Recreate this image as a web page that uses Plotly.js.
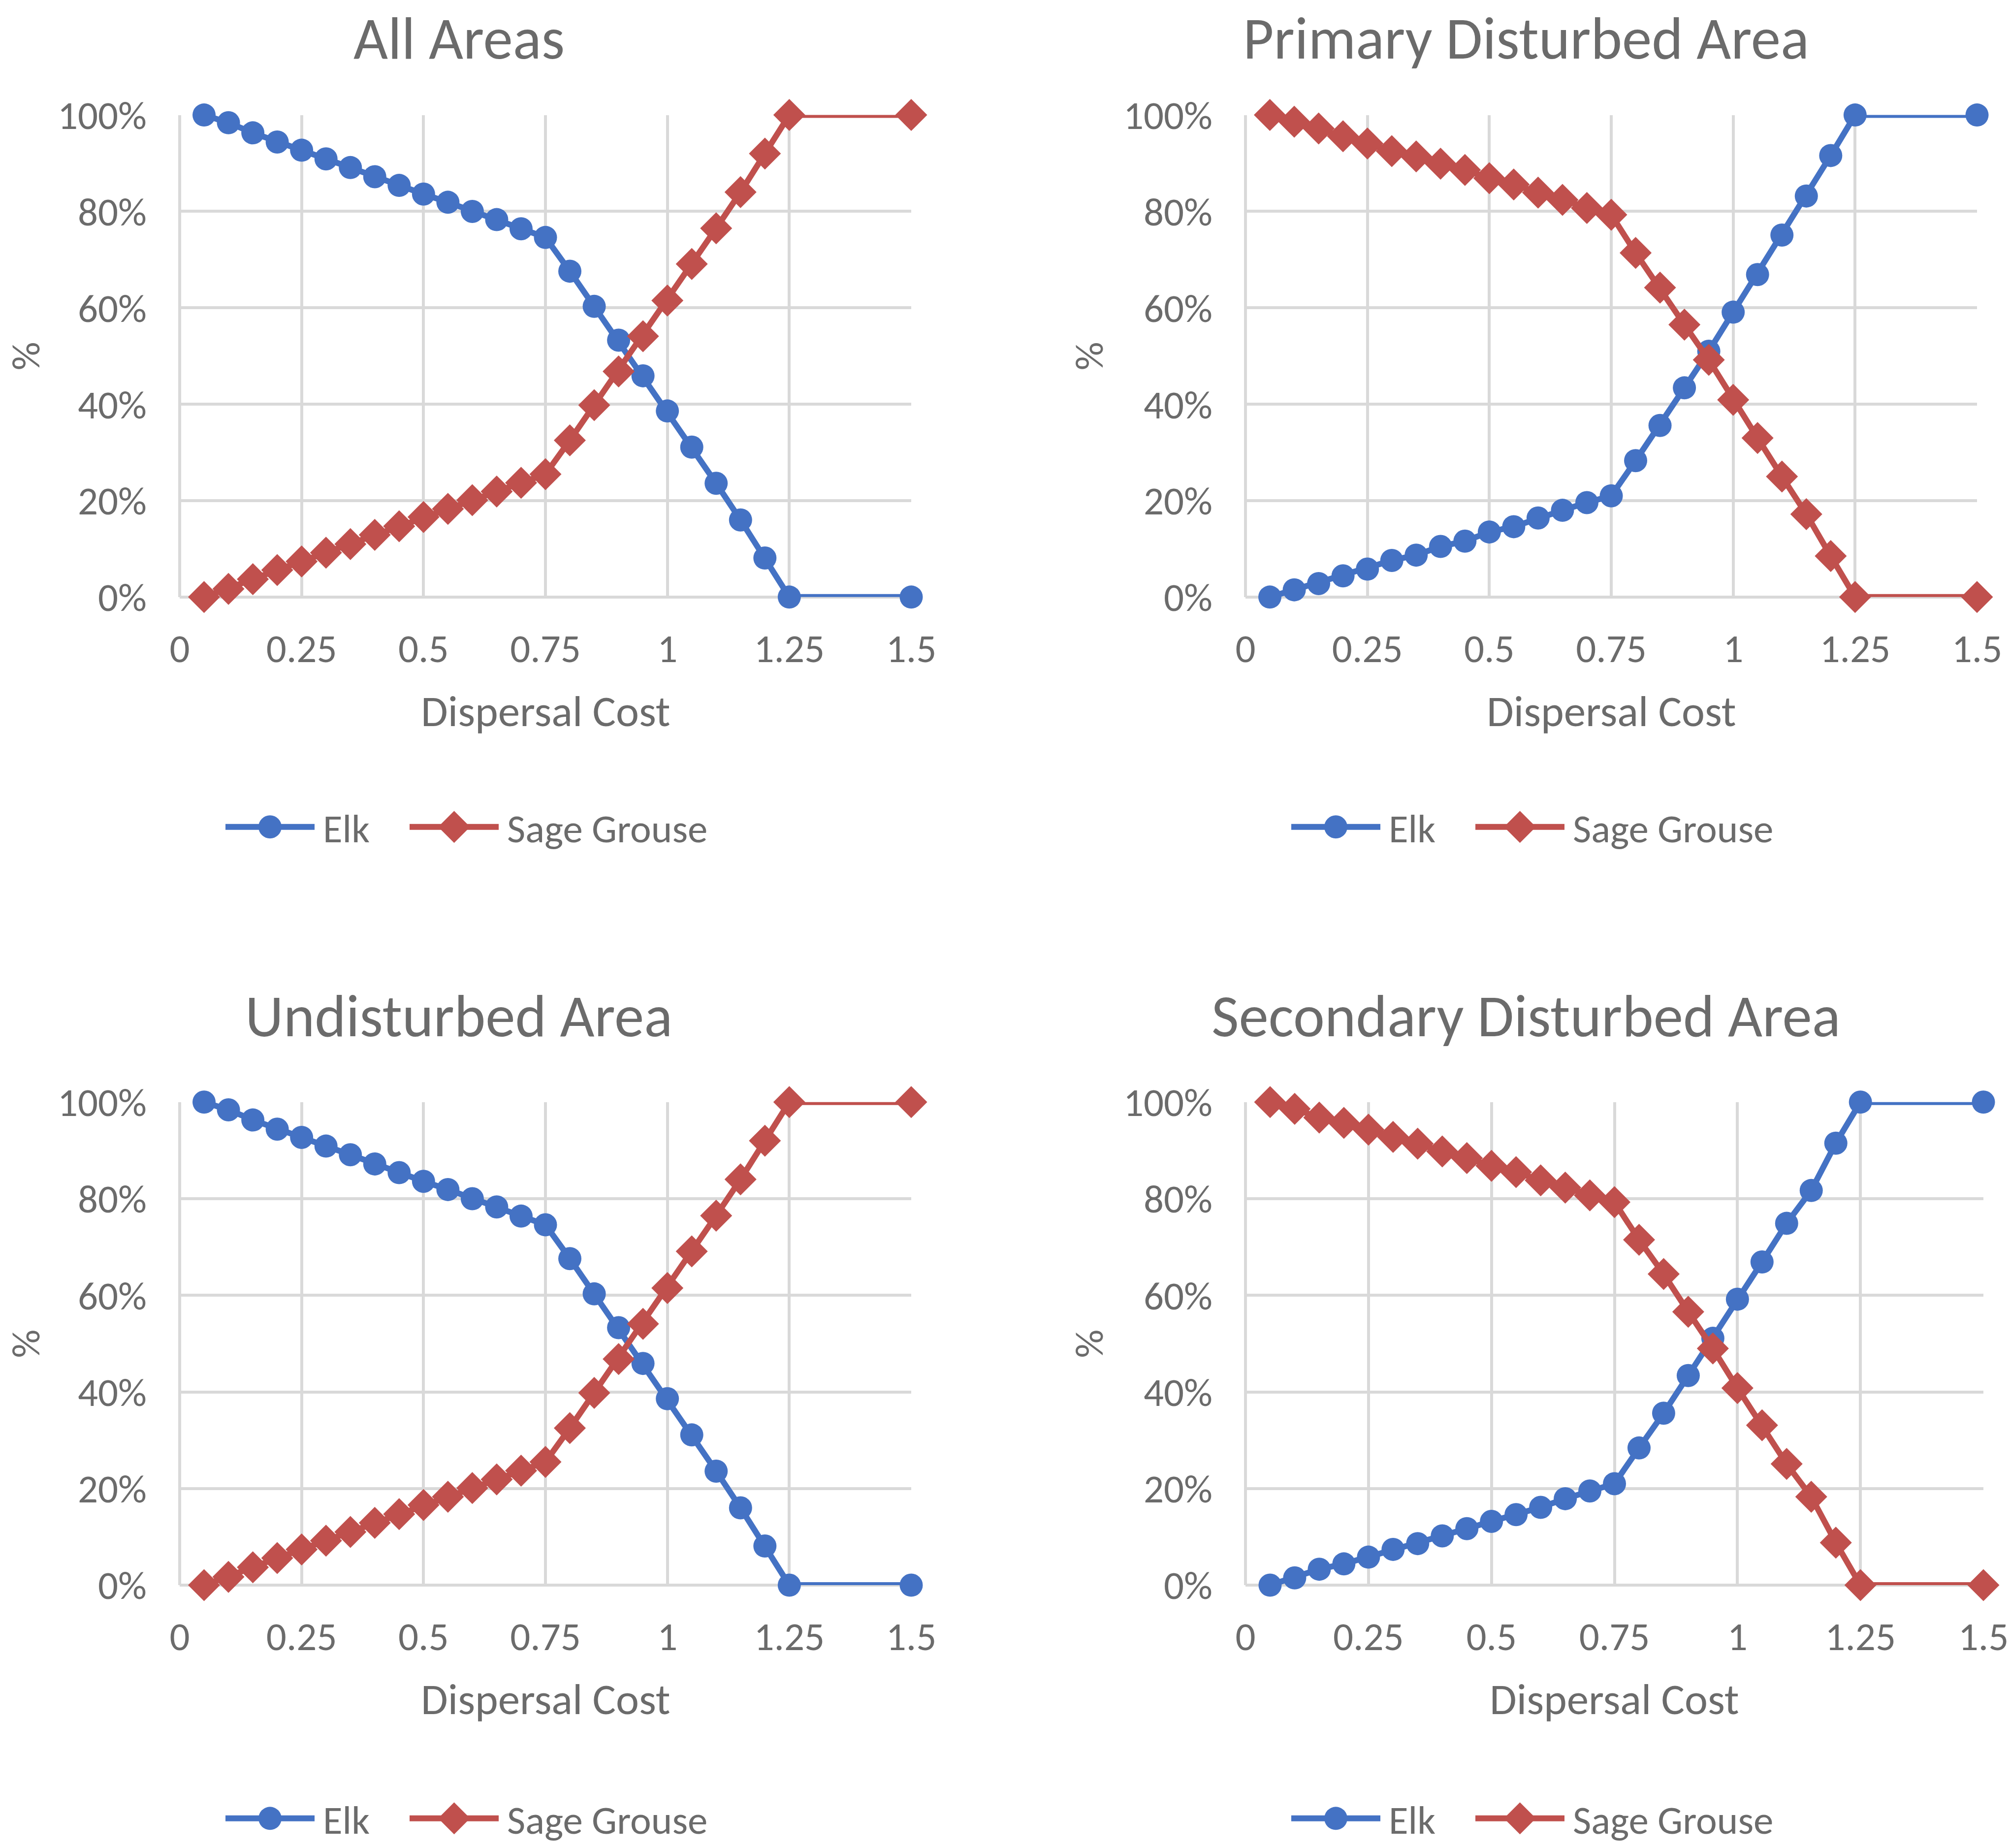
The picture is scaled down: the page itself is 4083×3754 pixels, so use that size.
<!DOCTYPE html>
<html>
<head>
<meta charset="utf-8">
<script src="https://cdn.plot.ly/plotly-3.0.1.min.js"></script>
<style>
  html, body { margin: 0; padding: 0; background: #fff; }
  #plot { width: 4083px; height: 3754px; }
</style>
</head>
<body>
<div id="plot"></div>
<script>
// dispersal cost steps (x) shared by all four panels
var cost = [0.05, 0.10, 0.15, 0.20, 0.25, 0.30, 0.35, 0.40, 0.45, 0.50,
            0.55, 0.60, 0.65, 0.70, 0.75, 0.80, 0.85, 0.90, 0.95, 1.00,
            1.05, 1.10, 1.15, 1.20, 1.25, 1.50];

// All Areas
var allElk   = [100, 98.4, 96.3, 94.4, 92.7, 90.9, 89.1, 87.2, 85.4, 83.6,
                81.9, 80.0, 78.3, 76.4, 74.6, 67.6, 60.3, 53.3, 45.9, 38.6,
                31.1, 23.6, 16.0, 8.1, 0, 0];
var allSage  = [0, 1.7, 3.7, 5.6, 7.4, 9.2, 11.0, 12.9, 14.7, 16.6,
                18.3, 20.1, 21.9, 23.7, 25.5, 32.5, 39.8, 46.8, 54.1, 61.5,
                69.1, 76.5, 84.0, 92.0, 100, 100];

// Primary Disturbed Area
var priElk   = [0, 1.5, 2.8, 4.4, 5.8, 7.6, 8.7, 10.5, 11.6, 13.5,
                14.6, 16.4, 18.0, 19.6, 21.0, 28.3, 35.6, 43.4, 51.0, 59.1,
                66.9, 75.1, 83.2, 91.6, 100, 100];
var priSage  = [100, 98.6, 97.2, 95.6, 94.1, 92.5, 91.4, 89.9, 88.6, 86.9,
                85.6, 83.9, 82.4, 80.7, 79.3, 71.4, 64.2, 56.5, 49.2, 40.9,
                33.0, 25.0, 17.2, 8.5, 0, 0];

// Undisturbed Area
var undElk   = [100, 98.4, 96.3, 94.4, 92.7, 90.9, 89.1, 87.2, 85.4, 83.6,
                81.9, 80.0, 78.3, 76.4, 74.6, 67.6, 60.3, 53.3, 45.9, 38.6,
                31.1, 23.6, 16.0, 8.1, 0, 0];
var undSage  = [0, 1.7, 3.7, 5.6, 7.4, 9.2, 11.0, 12.9, 14.7, 16.6,
                18.3, 20.1, 21.9, 23.7, 25.5, 32.5, 39.8, 46.8, 54.1, 61.5,
                69.1, 76.5, 84.0, 92.0, 100, 100];

// Secondary Disturbed Area
var secElk   = [0, 1.5, 3.3, 4.4, 5.8, 7.4, 8.6, 10.2, 11.7, 13.2,
                14.6, 16.1, 17.9, 19.5, 21.0, 28.4, 35.6, 43.4, 51.1, 59.2,
                66.9, 74.9, 81.7, 91.5, 100, 100];
var secSage  = [100, 98.6, 96.8, 95.7, 94.3, 92.8, 91.4, 89.8, 88.4, 86.8,
                85.5, 83.8, 82.3, 80.7, 79.3, 71.5, 64.4, 56.6, 49.0, 40.8,
                33.1, 25.1, 18.3, 8.8, 0, 0];

var panelTitles = ['All Areas', 'Primary Disturbed Area', 'Undisturbed Area', 'Secondary Disturbed Area'];
var seriesNames = ['Elk', 'Sage Grouse'];
var panelData = [[allElk, allSage], [priElk, priSage], [undElk, undSage], [secElk, secSage]];

var W = 4083, H = 3754;
var FONT = 'Carlito, Calibri, Lato, sans-serif';
var GREY = '#6b6b6b';
var GRID = '#d9d9d9';
var BLUE = '#4472C4', RED = '#C0504D';

function px(x) { return x / W; }
function py(y) { return 1 - y / H; }

// pixel boxes of each plot area [left, right, top, bottom]
var boxes = [
    [365, 1851, 235, 1220],
    [2530, 4016, 235, 1220],
    [365, 1851, 2252, 3239],
    [2530, 4029, 2252, 3239]
];

var data = [];
var layout = {
    width: W, height: H,
    margin: {l: 0, r: 0, t: 0, b: 0},
    paper_bgcolor: '#fff',
    plot_bgcolor: '#fff',
    showlegend: true,
    annotations: []
};

for (var p = 0; p < 4; p++) {
    var sfx = p === 0 ? '' : String(p + 1);
    var b = boxes[p];
    var legName = 'legend' + sfx;

    layout['xaxis' + sfx] = {
        domain: [px(b[0]), px(b[1])],
        anchor: 'y' + sfx,
        range: [0, 1.5], tick0: 0, dtick: 0.25,
        showgrid: true, gridcolor: GRID, gridwidth: 6,
        zeroline: true, zerolinecolor: GRID, zerolinewidth: 6,
        showline: false, ticks: '',
        ticklabelstandoff: 50,
        tickfont: {family: FONT, size: 81, color: GREY},
        fixedrange: true
    };
    layout['yaxis' + sfx] = {
        domain: [py(b[3]), py(b[2])],
        anchor: 'x' + sfx,
        range: [0, 100], tick0: 0, dtick: 20, ticksuffix: '%',
        showgrid: true, gridcolor: GRID, gridwidth: 6,
        zeroline: true, zerolinecolor: GRID, zerolinewidth: 6,
        showline: false, ticks: '',
        ticklabelstandoff: 66,
        tickfont: {family: FONT, size: 81, color: GREY},
        fixedrange: true
    };

    var legY = p < 2 ? 1690 : 3716;
    layout[legName] = {
        orientation: 'h',
        x: px(b[0] + 88), xanchor: 'left',
        y: py(legY), yanchor: 'middle',
        font: {family: FONT, size: 81, color: GREY},
        itemwidth: 193,
        bgcolor: 'rgba(0,0,0,0)',
        borderwidth: 0
    };

    var cols = [BLUE, RED], syms = ['circle', 'diamond'], sizes = [47, 50];
    var entryW = [166, 0];
    for (var s = 0; s < 2; s++) {
        var tr = {
            type: 'scatter', mode: 'lines+markers',
            name: seriesNames[s],
            x: cost, y: panelData[p][s],
            xaxis: 'x' + sfx, yaxis: 'y' + sfx,
            legend: legName,
            line: {color: cols[s], width: 12},
            marker: {color: cols[s], symbol: syms[s], size: sizes[s]},
            cliponaxis: false,
            hoverinfo: 'skip'
        };
        if (entryW[s]) tr.legendwidth = entryW[s];
        data.push(tr);
    }

    // chart title
    var titleX = p % 2 === 0 ? 932 : 3100;
    var titleTop = p < 2 ? 2 : 2000;
    layout.annotations.push({
        text: panelTitles[p], xref: 'paper', yref: 'paper',
        x: px(titleX), y: py(titleTop), xanchor: 'center', yanchor: 'top',
        showarrow: false, font: {family: FONT, size: 121, color: GREY}
    });
    // x axis title
    layout.annotations.push({
        text: 'Dispersal Cost', xref: 'paper', yref: 'paper',
        x: px((b[0] + b[1]) / 2), y: py(b[3] + 233), xanchor: 'center', yanchor: 'middle',
        showarrow: false, font: {family: FONT, size: 89, color: GREY}
    });
    // y axis title
    layout.annotations.push({
        text: '%', xref: 'paper', yref: 'paper', textangle: -90,
        x: px(p % 2 === 0 ? 52 : 2212), y: py((b[2] + b[3]) / 2), xanchor: 'center', yanchor: 'middle',
        showarrow: false, font: {family: FONT, size: 81, color: GREY}
    });
}

var gd = document.getElementById('plot');
Plotly.newPlot(gd, data, layout, {staticPlot: true}).then(function () {
    // legend symbols are capped in size by plotly; stretch them to match the chart marks
    gd.querySelectorAll('.infolayer g.traces').forEach(function (g) {
        var d = g.__data__;
        var tr = d && d[0] && d[0].trace;
        if (!tr) return;
        var ln = g.querySelector('.legendlines path');
        if (ln) {
            ln.setAttribute('d', 'M5,0h181');
            ln.style.strokeWidth = tr.line.width + 'px';
        }
        var pt = g.querySelector('.legendpoints path');
        if (pt) pt.setAttribute('transform', 'translate(95.5,0) scale(' + (tr.marker.size / 16) + ')');
    });
});
</script>
</body>
</html>
